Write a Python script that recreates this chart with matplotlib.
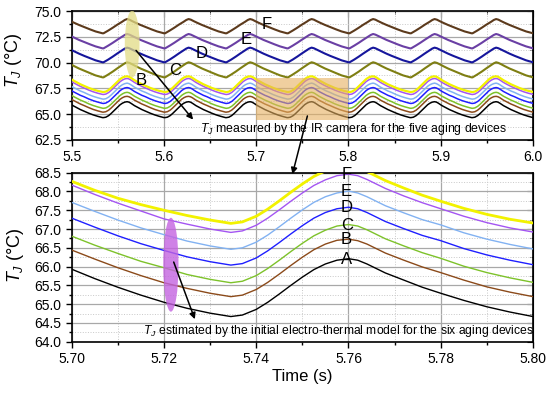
import numpy as np
import matplotlib
matplotlib.use("Agg")
import matplotlib.pyplot as plt
from matplotlib.patches import Ellipse, Rectangle
from matplotlib.ticker import MultipleLocator, FormatStrFormatter

plt.rcParams['font.family'] = ['Liberation Sans', 'DejaVu Sans']
plt.rcParams['mathtext.fontset'] = 'custom'
plt.rcParams['mathtext.rm'] = 'Liberation Sans'
plt.rcParams['mathtext.it'] = 'Liberation Sans:italic'

# ---------------- data: model estimates (bottom panel, 5.70-5.80 s) ----------------
t_model = [5.700, 5.705, 5.710, 5.715, 5.720, 5.725, 5.730, 5.7325, 5.7345, 5.737,
           5.740, 5.7425, 5.745, 5.7475, 5.750, 5.7525, 5.755, 5.7575, 5.760, 5.762,
           5.764, 5.766, 5.768, 5.772, 5.776, 5.780, 5.785, 5.790, 5.795, 5.800]
model_A = [65.93, 65.68, 65.45, 65.24, 65.05, 64.89, 64.76, 64.71, 64.67, 64.71,
           64.86, 65.05, 65.27, 65.50, 65.72, 65.92, 66.07, 66.17, 66.21, 66.17,
           66.07, 65.95, 65.83, 65.64, 65.45, 65.29, 65.10, 64.93, 64.79, 64.67]
model_B = [66.44, 66.20, 65.97, 65.76, 65.57, 65.42, 65.29, 65.24, 65.20, 65.24,
           65.39, 65.58, 65.80, 66.03, 66.25, 66.45, 66.60, 66.70, 66.73, 66.69,
           66.60, 66.48, 66.36, 66.17, 65.99, 65.84, 65.64, 65.46, 65.32, 65.20]
model_C = [66.81, 66.57, 66.35, 66.14, 65.97, 65.79, 65.66, 65.61, 65.57, 65.61,
           65.76, 65.95, 66.17, 66.40, 66.62, 66.82, 66.97, 67.08, 67.12, 67.08,
           66.98, 66.86, 66.74, 66.55, 66.37, 66.22, 66.01, 65.84, 65.70, 65.58]
model_D = [67.29, 67.05, 66.82, 66.61, 66.43, 66.26, 66.13, 66.08, 66.04, 66.08,
           66.23, 66.42, 66.64, 66.87, 67.09, 67.29, 67.44, 67.54, 67.58, 67.54,
           67.44, 67.32, 67.20, 67.01, 66.83, 66.69, 66.48, 66.31, 66.17, 66.05]
model_E = [67.71, 67.47, 67.24, 67.03, 66.85, 66.68, 66.55, 66.50, 66.46, 66.50,
           66.65, 66.84, 67.06, 67.29, 67.51, 67.71, 67.86, 67.96, 68.01, 67.96,
           67.86, 67.74, 67.62, 67.43, 67.25, 67.11, 66.90, 66.73, 66.59, 66.47]
model_F = [68.17, 67.92, 67.69, 67.48, 67.27, 67.13, 67.00, 66.95, 66.91, 66.95,
           67.10, 67.29, 67.51, 67.74, 67.96, 68.16, 68.31, 68.42, 68.46, 68.42,
           68.32, 68.20, 68.08, 67.88, 67.70, 67.54, 67.34, 67.17, 67.03, 66.92]
ir_B = [68.27, 68.03, 67.82, 67.65, 67.50, 67.36, 67.24, 67.19, 67.15, 67.19,
        67.34, 67.53, 67.75, 67.98, 68.20, 68.40, 68.55, 68.64, 68.67, 68.63,
        68.53, 68.41, 68.29, 68.09, 67.90, 67.74, 67.55, 67.39, 67.26, 67.16]

# ---------------- data: IR camera, one period (top panel) ----------------
period = 1.0 / 15.0          # switching period of the waveform (s)
t_first_min = 5.7345 - 4 * period
ir_phase = [0.0, 0.005, 0.010, 0.015, 0.020, 0.023, 0.0255, 0.028, 0.031, 0.035,
            0.040, 0.046, 0.052, 0.058, 0.0655]
ir_C = [68.57, 68.84, 69.13, 69.45, 69.75, 69.93, 70.03, 69.97, 69.84, 69.65,
        69.43, 69.20, 68.98, 68.76, 68.57]
ir_D = [70.03, 70.29, 70.58, 70.89, 71.18, 71.36, 71.45, 71.39, 71.26, 71.08,
        70.87, 70.64, 70.43, 70.22, 70.03]
ir_E = [71.38, 71.64, 71.92, 72.22, 72.50, 72.68, 72.77, 72.71, 72.58, 72.41,
        72.20, 71.98, 71.77, 71.57, 71.38]
ir_F = [72.84, 73.10, 73.38, 73.68, 73.95, 74.13, 74.22, 74.16, 74.02, 73.85,
        73.65, 73.43, 73.22, 73.02, 72.84]

labels_model = ['A', 'B', 'C', 'D', 'E', 'F']
col_model = ['#000000', '#8B4A1A', '#7DC22A', '#1F1FFF', '#82B2F2', '#A455F2']
col_yellow = '#F2F200'
col_ir = {'C': '#7E7E12', 'D': '#16169C', 'E': '#6A3FA4', 'F': '#5C3A1C'}

# ---------------- figure ----------------
fig = plt.figure(figsize=(5.5, 3.93), dpi=100)
ax1 = fig.add_axes([0.1304, 0.6438, 0.8387, 0.3282])
ax2 = fig.add_axes([0.1304, 0.1305, 0.8387, 0.4301])

t_model_a = np.array(t_model)
i0 = 8  # index of the minimum at 5.7345


def tile(phase, vals, nper=9):
    ts, vs = [], []
    for k in range(nper):
        ts.extend(t_first_min + k * period + np.asarray(phase))
        vs.extend(vals)
    return np.array(ts), np.array(vs)


model_phase = t_model_a[i0:] - t_model_a[i0]
models = [model_A, model_B, model_C, model_D, model_E, model_F]

# top panel
for vals, c in zip(models, col_model):
    tt, vv = tile(model_phase, vals[i0:])
    ax1.plot(tt, vv, color=c, lw=1.1, zorder=3)
tt, vv = tile(model_phase, ir_B[i0:])
ax1.plot(tt, vv, color=col_yellow, lw=1.6, zorder=3)
for key, vals in [('C', ir_C), ('D', ir_D), ('E', ir_E), ('F', ir_F)]:
    tt, vv = tile(ir_phase, vals)
    ax1.plot(tt, vv, color=col_ir[key], lw=1.5, zorder=3)

ax1.add_patch(Ellipse((5.5655, 71.8), 0.016, 6.5, facecolor='#E2DC85',
                      alpha=0.75, edgecolor='none', zorder=4))
ax1.add_patch(Rectangle((5.70, 64.44), 0.10, 4.06, facecolor='#E6B060',
                        alpha=0.6, edgecolor='none', zorder=4))

for lab, (x, y) in zip(['B', 'C', 'D', 'E', 'F'],
                       [(5.5758, 68.3), (5.6118, 69.2), (5.6407, 70.9),
                        (5.6895, 72.2), (5.7111, 73.7)]):
    ax1.text(x, y, lab, fontsize=12, ha='center', va='center', zorder=6)

ax1.text(5.639, 63.55, r'$T_J$ measured by the IR camera for the five aging devices',
         fontsize=8.8, ha='left', va='center', zorder=6)
ax1.annotate('', xy=(5.6335, 64.27), xytext=(5.5678, 71.39),
             arrowprops=dict(arrowstyle='-|>', color='k', lw=1.1,
                             mutation_scale=9), zorder=7)

ax1.set_xlim(5.5, 6.0)
ax1.set_ylim(62.5, 75.0)
ax1.xaxis.set_major_locator(MultipleLocator(0.1))
ax1.xaxis.set_minor_locator(MultipleLocator(0.05))
ax1.yaxis.set_major_locator(MultipleLocator(2.5))
ax1.yaxis.set_minor_locator(MultipleLocator(1.25))
ax1.xaxis.set_major_formatter(FormatStrFormatter('%.1f'))
ax1.yaxis.set_major_formatter(FormatStrFormatter('%.1f'))
fig.text(13.5 / 550, 1 - 60 / 393, r'$T_J$ (°C)', fontsize=13, rotation=90,
         ha='center', va='center')

# bottom panel
for vals, c in zip(models, col_model):
    ax2.plot(t_model, vals, color=c, lw=1.0, zorder=3)
ax2.plot(t_model, ir_B, color=col_yellow, lw=2.0, zorder=3)

for lab, vals in zip(labels_model, models):
    ax2.text(5.7596, vals[18] - 0.02, lab, fontsize=12, ha='center', va='center', zorder=6)

ax2.add_patch(Ellipse((5.7215, 66.05), 0.0033, 2.5, facecolor='#C463E0',
                      alpha=0.8, edgecolor='none', zorder=4))
ax2.annotate('', xy=(5.7269, 64.53), xytext=(5.7219, 66.19),
             arrowprops=dict(arrowstyle='-|>', color='k', lw=1.1,
                             mutation_scale=9), zorder=7)
ax2.text(5.7155, 64.29,
         r'$T_J$ estimated by the initial electro-thermal model for the six aging devices',
         fontsize=8.7, ha='left', va='center', zorder=6)
ax2.annotate('', xy=(5.7477, 68.39), xycoords='data',
             xytext=(5.7562, 65.09), textcoords=ax1.transData,
             arrowprops=dict(arrowstyle='-|>', color='k', lw=1.1, mutation_scale=9),
             annotation_clip=False, zorder=7)

ax2.set_xlim(5.70, 5.80)
ax2.set_ylim(64.0, 68.5)
ax2.xaxis.set_major_locator(MultipleLocator(0.02))
ax2.xaxis.set_minor_locator(MultipleLocator(0.01))
ax2.yaxis.set_major_locator(MultipleLocator(0.5))
ax2.yaxis.set_minor_locator(MultipleLocator(0.25))
ax2.xaxis.set_major_formatter(FormatStrFormatter('%.2f'))
ax2.yaxis.set_major_formatter(FormatStrFormatter('%.1f'))
fig.text(15 / 550, 1 - 255 / 393, r'$T_J$ (°C)', fontsize=13, rotation=90,
         ha='center', va='center')
ax2.set_xlabel('Time (s)', fontsize=12, labelpad=2)

for ax in (ax1, ax2):
    ax.grid(which='major', color='#A8A8A8', lw=0.9, zorder=1)
    ax.grid(which='minor', color='#C8C8C8', lw=0.7, ls=':', zorder=1)
    ax.tick_params(which='both', labelsize=10, direction='out', width=1.0)
    ax.tick_params(which='major', length=4)
    ax.tick_params(which='minor', length=2.5)
    for s in ax.spines.values():
        s.set_linewidth(1.2)
    sx = ax.secondary_xaxis('top')
    sx.xaxis.set_major_locator(ax.xaxis.get_major_locator())
    sx.xaxis.set_minor_locator(ax.xaxis.get_minor_locator())
    sx.tick_params(which='both', direction='in', labeltop=False)
    sx.tick_params(which='major', length=4)
    sx.tick_params(which='minor', length=2.5)
    sy = ax.secondary_yaxis('right')
    sy.yaxis.set_major_locator(ax.yaxis.get_major_locator())
    sy.yaxis.set_minor_locator(ax.yaxis.get_minor_locator())
    sy.tick_params(which='both', direction='in', labelright=False)
    sy.tick_params(which='major', length=4)
    sy.tick_params(which='minor', length=2.5)

fig.savefig('out.png', dpi=100)
